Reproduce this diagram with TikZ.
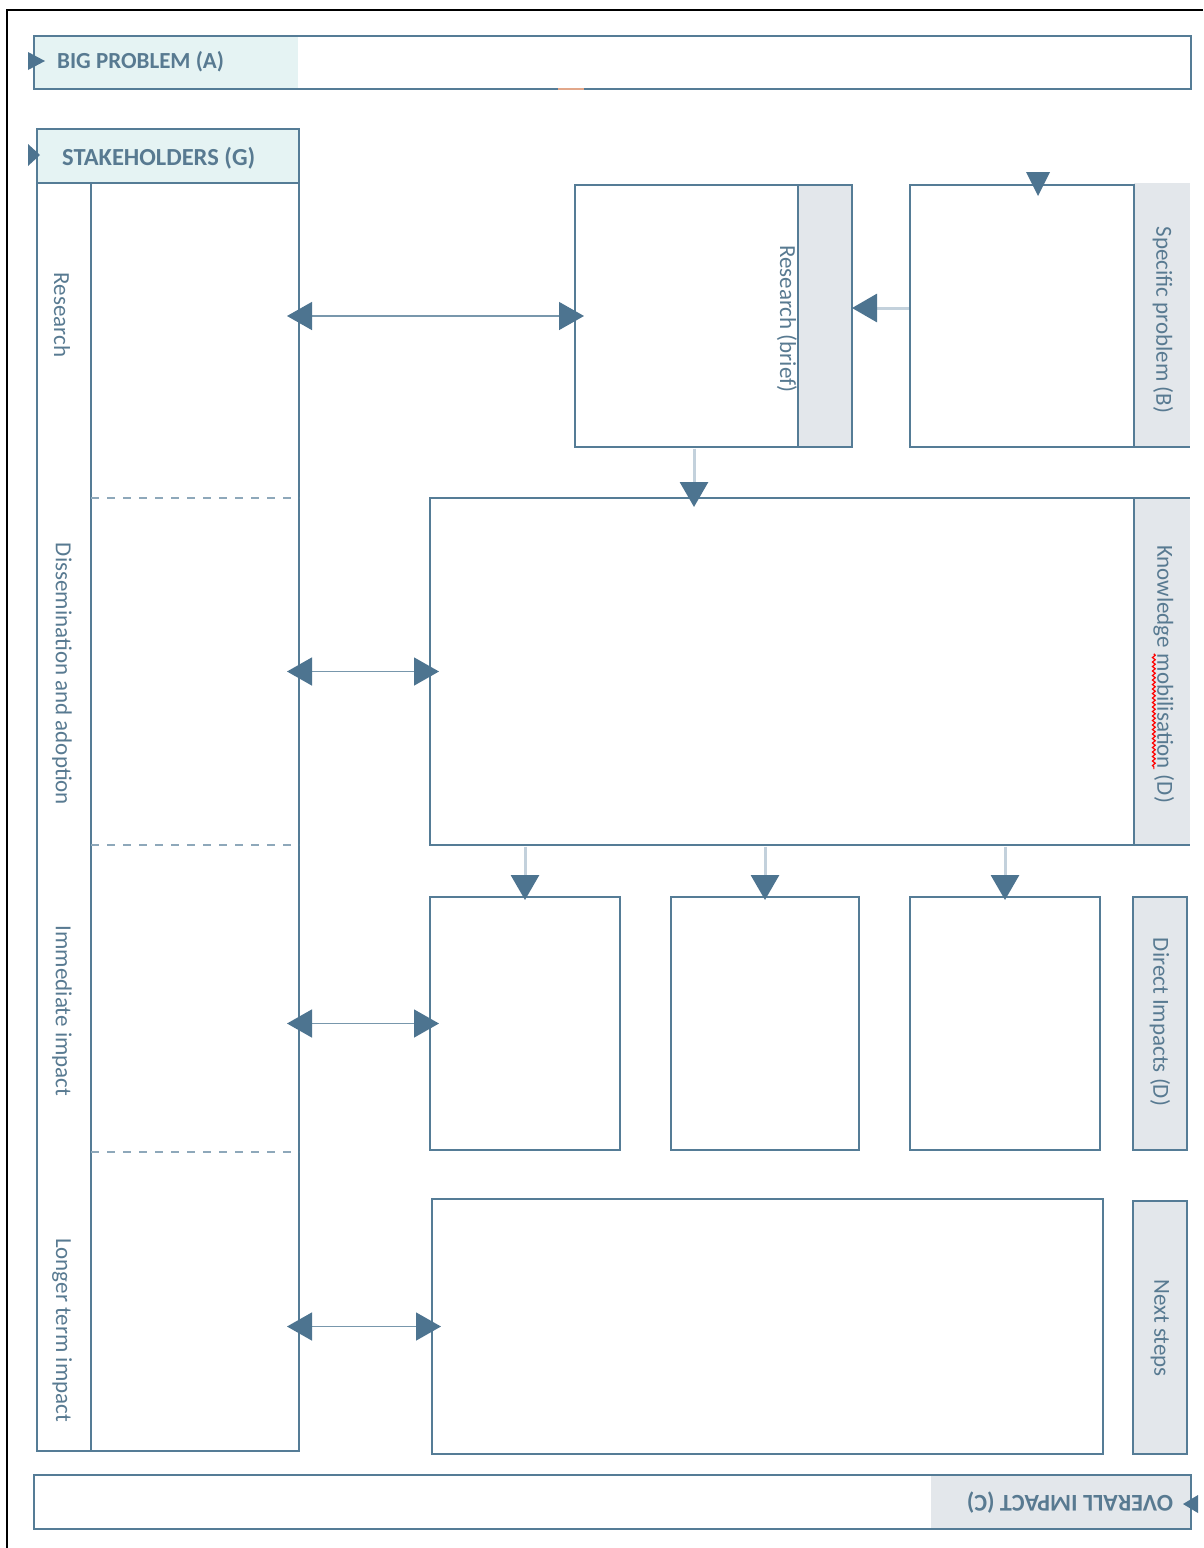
\documentclass[tikz,border=0pt]{standalone}
\usepackage{fontspec}
\setmainfont{Carlito}
\usetikzlibrary{arrows.meta,calc,decorations.pathmorphing}
\definecolor{strk}{HTML}{557C96}
\definecolor{tipc}{HTML}{4D7490}
\definecolor{cyanfill}{HTML}{E5F3F3}
\definecolor{greyfill}{HTML}{E3E7EB}
\definecolor{lightline}{HTML}{C3D1DC}
\definecolor{midline}{HTML}{7897AC}
\definecolor{labeltext}{HTML}{587A91}
\definecolor{dashc}{HTML}{8EA8BA}
\definecolor{orangemark}{HTML}{E2A78A}
\newcommand\squigword[1]{\tikz[baseline=(sq.base)]{\node[inner sep=0pt,outer sep=0pt,text=labeltext](sq){#1};\draw[red,line width=1.2pt,decorate,decoration={snake,amplitude=1.4pt,segment length=4.5pt}]([yshift=-3.5pt]sq.base west)--([yshift=-3.5pt]sq.base east);}}
\begin{document}
\begin{tikzpicture}[x=1pt,y=-1pt,
  panel/.style={draw=strk,line width=1.6pt,inner sep=0pt,outer sep=0pt,anchor=north west},
  edge/.style={draw=strk,line width=1.6pt},
  hdr/.style={font=\bfseries\fontsize{23}{27}\selectfont,text=labeltext,inner sep=0pt},
  lbl/.style={font=\fontsize{23}{27}\selectfont,text=labeltext,inner sep=0pt,rotate=-90},
  dbl/.style={draw=midline,line width=1.4pt,
    {Triangle[length=25pt,width=28pt,color=tipc]}-{Triangle[length=25pt,width=28pt,color=tipc]},
    shorten <=-12pt,shorten >=-9pt},
  one/.style={draw=lightline,line width=3pt,-{Triangle[length=25pt,width=28pt,color=tipc]},shorten <=1.5pt},
  dashln/.style={draw=dashc,line width=1.2pt,dash pattern=on 8pt off 8pt},
  marker/.style={fill=tipc}]
\useasboundingbox (0,0) rectangle (1203,1548);
\fill[white] (0,0) rectangle (1203,1548);
% outer frame (left and top visible)
\draw[black,line width=2pt] (7,1548) -- (7,10) -- (1203,10);

% BIG PROBLEM
\fill[cyanfill] (34,36) rectangle (298,89);
\node[panel,minimum width=1157pt,minimum height=53pt] (bigp) at (34,36) {};
\draw[orangemark,line width=1.6pt] (558,89) -- (584,89);
\node[hdr,anchor=west] (bigpt) at (57,62) {BIG PROBLEM (A)};
\fill[marker] (28,52) -- (45,61) -- (28,70) -- cycle;

% STAKEHOLDERS
\node[panel,fill=cyanfill,minimum width=262pt,minimum height=54pt] (stkh) at (37,129) {};
\node[hdr,anchor=west,font=\bfseries\fontsize{24.5}{28}\selectfont] (stkht) at (62,158) {STAKEHOLDERS (G)};
\fill[marker] (28,144) -- (40,155) -- (28,166) -- cycle;
\node[panel,minimum width=262pt,minimum height=1268pt] (stkbody) at (37,183) {};
\draw[edge] (91,183) -- (91,1451);
\draw[dashln] (91,498) -- (299,498);
\draw[dashln] (91,845) -- (299,845);
\draw[dashln] (91,1152) -- (299,1152);
\node[lbl] (l1) at (62,315) {Research};
\node[lbl] (l2) at (62,674) {Dissemination and adoption};
\node[lbl] (l3) at (62,1011) {Immediate impact};
\node[lbl] (l4) at (62,1330) {Longer term impact};

% Research (brief)
\fill[greyfill] (798,185) rectangle (852,447);
\node[panel,minimum width=277pt,minimum height=262pt] (rb) at (575,185) {};
\draw[edge] (798,185) -- (798,447);
\node[lbl] (rbt) at (787,319) {Research (brief)};

% Specific problem
\fill[greyfill] (1134,183) rectangle (1190,447);
\node[panel,minimum width=224pt,minimum height=262pt] (sp) at (910,185) {};
\draw[edge] (sp.south east) -- ++(56,0);
\node[lbl] (spt) at (1163,320) {Specific problem (B)};
\fill[marker] (1026,172) -- (1050,172) -- (1038,196) -- cycle;

% Knowledge mobilisation
\fill[greyfill] (1134,498) rectangle (1190,845);
\node[panel,minimum width=704pt,minimum height=347pt] (km) at (430,498) {};
\draw[edge] (km.north east) -- ++(56,0);
\draw[edge] (km.south east) -- ++(56,0);
\node[lbl] (kmt) at (1163,674) {Knowledge \squigword{mobilisation} (D)};

% Direct impacts
\node[panel,minimum width=190pt,minimum height=253pt] (d1) at (430,897) {};
\node[panel,minimum width=188pt,minimum height=253pt] (d2) at (671,897) {};
\node[panel,minimum width=190pt,minimum height=253pt] (d3) at (910,897) {};
\node[panel,fill=greyfill,minimum width=54pt,minimum height=253pt] (di) at (1133,897) {};
\node[lbl] (dit) at (1160,1022) {Direct Impacts (D)};

% Next steps
\node[panel,minimum width=671pt,minimum height=255pt] (ns) at (432,1199) {};
\node[panel,fill=greyfill,minimum width=54pt,minimum height=253pt] (nss) at (1133,1201) {};
\node[lbl] (nst) at (1160,1328) {Next steps};

% OVERALL IMPACT
\fill[greyfill] (931,1475) rectangle (1191,1529);
\node[panel,minimum width=1157pt,minimum height=54pt] (ov) at (34,1475) {};
\node[hdr,rotate=180,font=\bfseries\fontsize{24}{28}\selectfont] (ovt) at (1070,1503) {OVERALL IMPACT (C)};
\fill[marker] (1183,1504) -- (1198,1495) -- (1198,1513) -- cycle;

% connectors
\draw[dbl] (stkbody.east |- rb.west) -- (rb.west);
\draw[dbl] (stkbody.east |- km.west) -- (km.west);
\draw[dbl] (stkbody.east |- d1.west) -- (d1.west);
\draw[dbl] (stkbody.east |- ns.west) -- (ns.west);
\draw[one] ($(sp.west)+(0,-8)$) -- ($(rb.east)+(0,-8)$);
\coordinate (rbout) at ($(rb.south)+(-19.5,0)$);
\draw[one,shorten >=-9pt] (rbout) -- (rbout |- km.north);
\draw[one,shorten >=-3pt] (d1.north |- km.south) -- (d1.north);
\draw[one,shorten >=-3pt] (d2.north |- km.south) -- (d2.north);
\draw[one,shorten >=-3pt] (d3.north |- km.south) -- (d3.north);
\end{tikzpicture}
\end{document}
